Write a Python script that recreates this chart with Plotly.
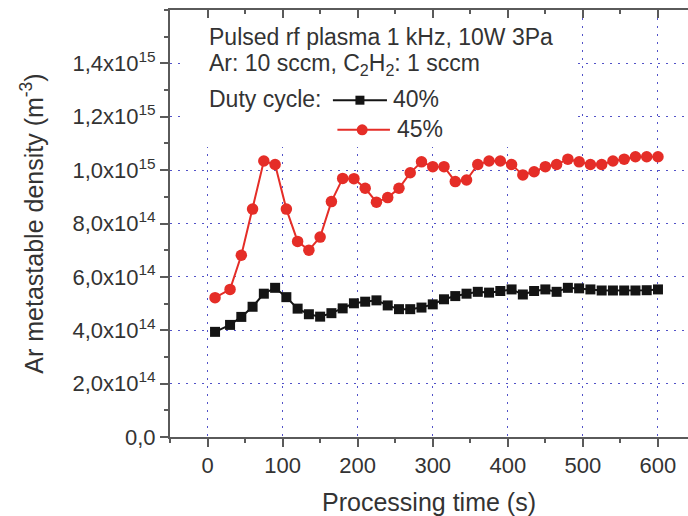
import plotly.graph_objects as go

# Processing time (s)
time_s = [10, 30, 45, 60, 75, 90, 105, 120, 135, 150, 165, 180, 195, 210, 225,
          240, 255, 270, 285, 300, 315, 330, 345, 360, 375, 390, 405, 420, 435,
          450, 465, 480, 495, 510, 525, 540, 555, 570, 585, 600]

# Ar metastable density (m^-3), duty cycle 40 %
dc40 = [3.94e14, 4.20e14, 4.50e14, 4.88e14, 5.37e14, 5.59e14, 5.24e14, 4.81e14,
        4.60e14, 4.51e14, 4.64e14, 4.82e14, 5.01e14, 5.07e14, 5.12e14, 4.93e14,
        4.79e14, 4.79e14, 4.85e14, 4.97e14, 5.16e14, 5.28e14, 5.37e14, 5.44e14,
        5.41e14, 5.47e14, 5.53e14, 5.34e14, 5.47e14, 5.53e14, 5.44e14, 5.59e14,
        5.57e14, 5.53e14, 5.49e14, 5.49e14, 5.49e14, 5.49e14, 5.50e14, 5.53e14]

# Ar metastable density (m^-3), duty cycle 45 %
dc45 = [5.22e14, 5.53e14, 6.81e14, 8.54e14, 1.034e15, 1.021e15, 8.54e14, 7.33e14,
        7.00e14, 7.49e14, 8.82e14, 9.69e14, 9.68e14, 9.32e14, 8.80e14, 8.97e14,
        9.32e14, 9.90e14, 1.031e15, 1.013e15, 1.013e15, 9.57e14, 9.63e14, 1.021e15,
        1.034e15, 1.034e15, 1.021e15, 9.82e14, 9.94e14, 1.013e15, 1.021e15, 1.041e15,
        1.031e15, 1.021e15, 1.021e15, 1.034e15, 1.041e15, 1.050e15, 1.050e15, 1.050e15]

y_tickvals = [0, 2e14, 4e14, 6e14, 8e14, 1.0e15, 1.2e15, 1.4e15]
y_ticktext = ["0,0", "2,0x10<sup>14</sup>", "4,0x10<sup>14</sup>", "6,0x10<sup>14</sup>",
              "8,0x10<sup>14</sup>", "1,0x10<sup>15</sup>", "1,2x10<sup>15</sup>",
              "1,4x10<sup>15</sup>"]
x_tickvals = [0, 100, 200, 300, 400, 500, 600]

RED = "#e52d27"
BLACK = "#141414"
AXIS = "#5a5a5a"
TXT = "#333333"
GRID = "#5252c8"
FONT = "Liberation Sans, Arial, sans-serif"

fig = go.Figure()
fig.add_trace(go.Scatter(x=time_s, y=dc40, mode="lines+markers", name="40%",
                         line=dict(color=BLACK, width=2),
                         marker=dict(symbol="square", size=10, color=BLACK),
                         showlegend=False))
fig.add_trace(go.Scatter(x=time_s, y=dc45, mode="lines+markers", name="45%",
                         line=dict(color=RED, width=2),
                         marker=dict(symbol="circle", size=11.5, color=RED),
                         showlegend=False))
# invisible trace to activate the mirrored top axis
fig.add_trace(go.Scatter(x=time_s, y=dc40, xaxis="x2", mode="markers",
                         marker=dict(opacity=0), hoverinfo="skip", showlegend=False))

fig.update_layout(
    width=688, height=516, autosize=False,
    margin=dict(l=170, r=0, t=10, b=79),
    paper_bgcolor="white", plot_bgcolor="white",
    font=dict(family=FONT, color=TXT, size=22),
    xaxis=dict(range=[-50, 640], tickvals=x_tickvals, ticks="outside", ticklen=8,
               tickwidth=1.5, tickcolor=AXIS, showline=True, linecolor=AXIS, linewidth=2,
               showgrid=True, gridcolor=GRID, gridwidth=1.3, griddash="2px,6px",
               zeroline=False, tickfont=dict(size=22, color=TXT),
               minor=dict(dtick=50, tick0=0, ticks="outside", ticklen=4, tickcolor=AXIS,
                          showgrid=False),
               title=dict(text="Processing time (s)", font=dict(size=25, color=TXT),
                          standoff=18)),
    xaxis2=dict(range=[-50, 640], overlaying="x", side="top", anchor="y",
                tickvals=x_tickvals, ticks="inside", ticklen=8, tickwidth=1.5,
                tickcolor=AXIS, showline=True, linecolor=AXIS, linewidth=2,
                showticklabels=False, showgrid=False, zeroline=False,
                minor=dict(dtick=50, tick0=0, ticks="inside", ticklen=4, tickcolor=AXIS,
                           showgrid=False)),
    yaxis=dict(range=[0, 1.6e15], tickvals=y_tickvals, ticktext=y_ticktext,
               ticks="outside", ticklen=8, tickwidth=1.5, tickcolor=AXIS,
               showline=True, linecolor=AXIS, linewidth=2,
               showgrid=True, gridcolor=GRID, gridwidth=1.3, griddash="2px,6px",
               zeroline=False, tickfont=dict(size=22, color=TXT),
               minor=dict(dtick=1e14, tick0=0, ticks="outside", ticklen=4, tickcolor=AXIS,
                          showgrid=False),
               title=dict(text="Ar metastable density (m<sup>-3</sup>)",
                          font=dict(size=25, color=TXT), standoff=22)),
)

# white box behind the legend text (hides grid)
fig.add_shape(type="rect", xref="x", yref="y", x0=-33, x1=493, y0=1.087e15, y1=1.6e15,
              fillcolor="white", line=dict(width=0), layer="between")

# text block
fig.add_annotation(x=-1, y=1.50e15, xref="x", yref="y", xanchor="left", yanchor="middle",
                   text="Pulsed rf plasma 1 kHz, 10W 3Pa", showarrow=False,
                   font=dict(size=23, color=TXT))
fig.add_annotation(x=-1, y=1.395e15, xref="x", yref="y", xanchor="left", yanchor="middle",
                   text="Ar: 10 sccm, C<sub>2</sub>H<sub>2</sub>: 1 sccm", showarrow=False,
                   font=dict(size=23, color=TXT))
fig.add_annotation(x=-1, y=1.266e15, xref="x", yref="y", xanchor="left", yanchor="middle",
                   text="Duty cycle:", showarrow=False, font=dict(size=23, color=TXT))
fig.add_annotation(x=244, y=1.266e15, xref="x", yref="y", xanchor="left", yanchor="middle",
                   text="40%", showarrow=False, font=dict(size=23, color=TXT))
fig.add_annotation(x=250, y=1.155e15, xref="x", yref="y", xanchor="left", yanchor="middle",
                   text="45%", showarrow=False, font=dict(size=23, color=TXT))

# legend glyphs
fig.add_shape(type="line", xref="x", yref="y", x0=167, x1=239, y0=1.262e15, y1=1.262e15,
              line=dict(color=BLACK, width=2))
fig.add_shape(type="rect", xref="x", yref="y", xsizemode="pixel", ysizemode="pixel",
              xanchor=203, yanchor=1.262e15, x0=-4.5, x1=4.5, y0=-4.5, y1=4.5,
              fillcolor=BLACK, line=dict(width=0))
fig.add_shape(type="line", xref="x", yref="y", x0=173, x1=243, y0=1.151e15, y1=1.151e15,
              line=dict(color=RED, width=2))
fig.add_shape(type="circle", xref="x", yref="y", xsizemode="pixel", ysizemode="pixel",
              xanchor=206, yanchor=1.151e15, x0=-5.5, x1=5.5, y0=-5.5, y1=5.5,
              fillcolor=RED, line=dict(width=0))

fig.write_html("out.html")
